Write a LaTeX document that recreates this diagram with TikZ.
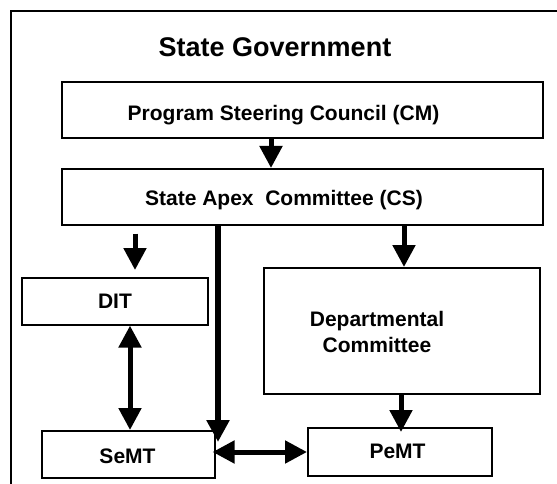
\documentclass[tikz,border=0pt]{standalone}
\usepackage{fontspec}
\setmainfont{Liberation Sans}
\usetikzlibrary{arrows.meta}
\begin{document}
\begin{tikzpicture}[x=1pt,y=-1pt,
  box/.style={draw, line width=1.6pt, anchor=north west, inner sep=0pt},
  lbl/.style={font=\bfseries\fontsize{21}{26}\selectfont, inner sep=0pt, align=center},
  tip/.tip={Triangle[width=22pt,length=22pt]},
  arr/.style={line width=5pt, -tip},
  dbl/.style={line width=5pt, tip-tip}]
\useasboundingbox (0,0) rectangle (557,484);
% frame
\draw[line width=1.6pt] (11,495) -- (11,11) -- (565,11);
\node[font=\bfseries\fontsize{27}{32}\selectfont, inner sep=0pt, anchor=base] (title) at (275,57) {State Government};
% boxes
\node[box, minimum width=481pt, minimum height=56pt] (psc) at (61,81) {};
\node[box, minimum width=481pt, minimum height=56pt] (sac) at (61,168) {};
\node[box, minimum width=186pt, minimum height=47pt] (dit) at (21,277) {};
\node[box, minimum width=276pt, minimum height=126pt] (dept) at (263,267) {};
\node[box, minimum width=173pt, minimum height=47pt] (semt) at (41,430) {};
\node[box, minimum width=184pt, minimum height=48pt] (pemt) at (307,427) {};
% labels
\node[lbl, anchor=base] (psct) at (283.5,121) {Program Steering Council (CM)};
\node[lbl, anchor=base] (sact) at (284,205) {State Apex\ \ Committee (CS)};
\node[lbl, anchor=base] (ditt) at (115,308) {DIT};
\node[lbl] (deptt) at (377,332.4) {Departmental\\Committee};
\node[lbl, anchor=base] (semtt) at (127.5,463) {SeMT};
\node[lbl, anchor=base] (pemtt) at (397.5,458) {PeMT};
% connectors
\coordinate (semtin) at (218,442);
\draw[arr] (271,0 |- psc.south) -- (271,0 |- sac.north);
\draw[arr, shorten <=8pt, shorten >=7pt] (135,0 |- sac.south) -- (135,0 |- dit.north);
\draw[line width=6pt, -tip] (218,0 |- sac.south) -- (semtin);
\draw[arr] (404,0 |- sac.south) -- (404,0 |- dept.north);
\draw[dbl] (130,0 |- dit.south) -- (130,0 |- semt.north);
\draw[arr, shorten >=-5pt] (401,0 |- dept.south) -- (401,0 |- pemt.north);
\draw[dbl, shorten <=-3pt] (semt.east |- 0,452) -- (pemt.west |- 0,452);
\end{tikzpicture}
\end{document}
